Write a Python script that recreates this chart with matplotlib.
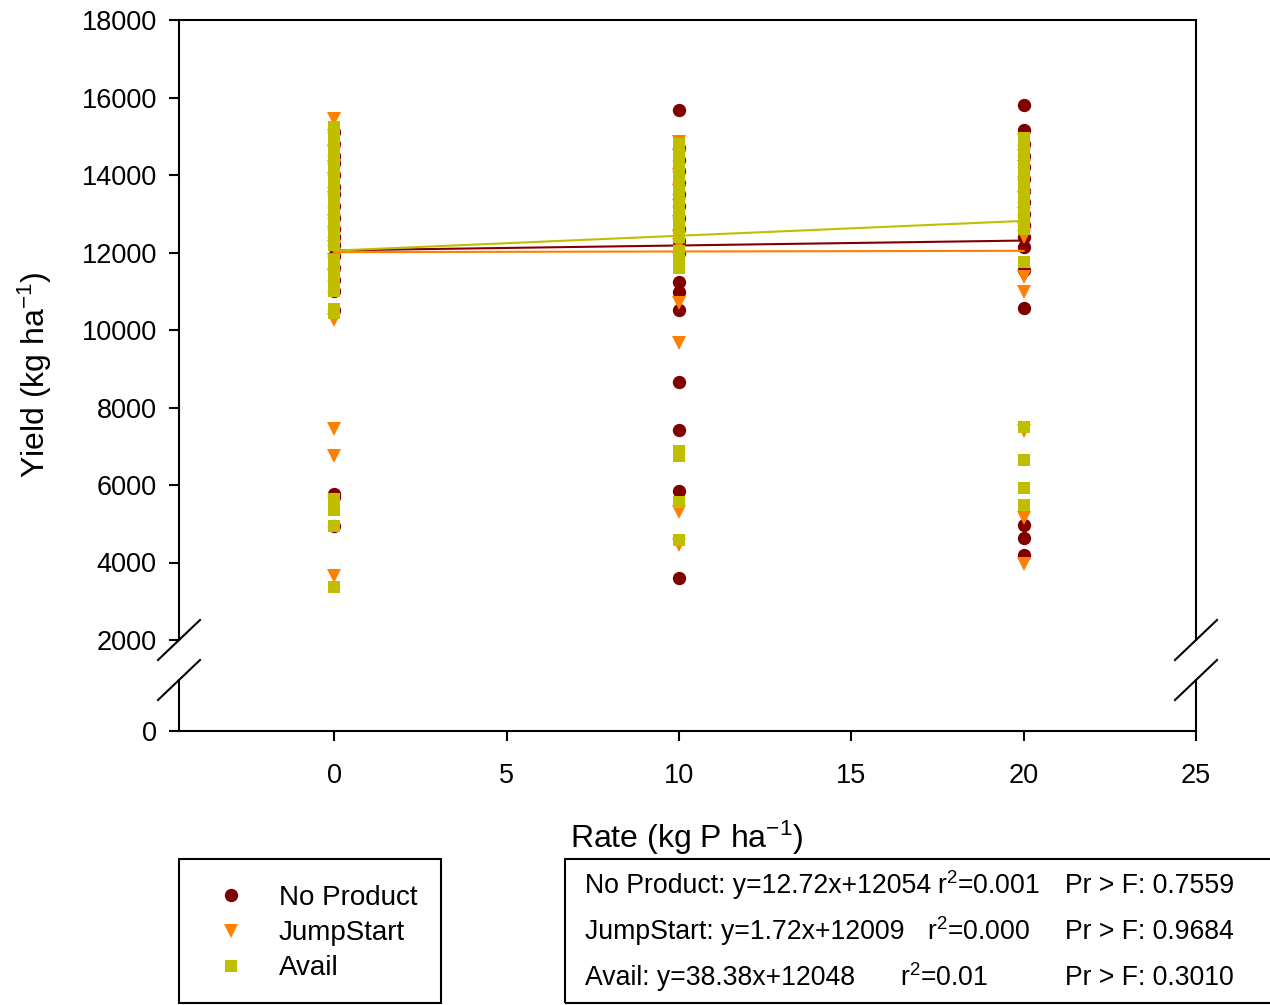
import matplotlib

matplotlib.use("Agg")
import matplotlib.pyplot as plt
from matplotlib.lines import Line2D
from matplotlib.patches import Rectangle
import numpy as np

plt.rcParams["font.family"] = ["Liberation Sans", "DejaVu Sans"]
plt.rcParams["mathtext.fontset"] = "custom"
plt.rcParams["mathtext.rm"] = "Liberation Sans"
plt.rcParams["mathtext.default"] = "regular"

# yields (kg/ha), per rate
rates = [0, 10, 20]

no_product = {
    0: [15100, 14800, 14500, 14300, 14000, 13700, 13500, 13200, 12900, 12600,
        12400, 12200, 11900, 11600, 11300, 11000, 10520, 5780, 5700, 4950],
    10: [15680, 14700, 14400, 14100, 13800, 13500, 13200, 12900, 12600, 12300,
         12000, 11250, 10980, 10520, 8660, 7420, 5850, 3600],
    20: [15800, 15150, 14800, 14500, 14200, 13900, 13600, 13300, 13000, 12700,
         12400, 12140, 11550, 10570, 4970, 4630, 4200],
}
jumpstart = {
    0: [15450, 15000, 14600, 14200, 13900, 13400, 12820, 12500, 12150,
        11800, 11400, 10250, 7450, 6750, 3650],
    10: [14850, 14500, 14000, 13600, 13200, 12800, 12400, 12190, 10700, 9660,
         5300, 4450],
    20: [14900, 14500, 14200, 13800, 13400, 13000, 12600, 12400, 11370, 10980,
         7400, 5150, 3950],
}
avail = {
    0: [15250, 15050, 14750, 14450, 14150, 13850, 13550, 13250, 13000,
        12700, 12400, 12200, 11800, 11500, 11200, 11000, 10550, 10450,
        5650, 5450, 5350, 4950, 3370],
    10: [14800, 14500, 14200, 13900, 13600, 13300, 13000, 12700, 12400,
         12050, 11750, 11600, 6870, 6750, 5560, 4580],
    20: [14950, 14650, 14350, 14050, 13750, 13450, 13150, 12850, 12600,
         11750, 7500, 6640, 5920, 5480],
}

series_names = ["No Product", "JumpStart", "Avail"]
series_data = [no_product, jumpstart, avail]
slopes = [12.72, 1.72, 38.38]
intercepts = [12054, 12009, 12048]
r2_text = ["0.001", "0.000", "0.01"]
pr_f = ["0.7559", "0.9684", "0.3010"]

colors = ["#800000", "#FF8000", "#BFBF00"]
markers = ["o", "v", "s"]
msizes = [9.6, 10.5, 9.0]

W, H = 1270, 1005
fig = plt.figure(figsize=(12.7, 10.05), dpi=100)


def fx(px):
    return px / W


def fy(py):
    return 1 - py / H


left, right = 179, 1196
ax = fig.add_axes([fx(left), fy(640), fx(right - left), (640 - 20) / H])
axb = fig.add_axes([fx(left), fy(731), fx(right - left), (731 - 680) / H])

for name, data, c, m, ms, b1, b0 in zip(series_names, series_data, colors,
                                         markers, msizes, slopes, intercepts):
    for r in rates:
        ax.plot([r] * len(data[r]), data[r], linestyle="none", marker=m,
                markersize=ms, color=c, markeredgewidth=0)
    xs = np.array([rates[0], rates[-1]])
    ax.plot(xs, b1 * xs + b0, color=c, lw=1.5)

ax.set_xlim(-4.5, 25)
ax.set_ylim(2000, 18000)
ax.set_yticks(np.arange(2000, 18001, 2000))
ax.set_xticks([])
ax.spines["bottom"].set_visible(False)

axb.set_xlim(-4.5, 25)
axb.set_ylim(0, 51 / 0.03875)
axb.set_yticks([0])
axb.set_xticks(np.arange(0, 26, 5))
axb.spines["top"].set_visible(False)
axb.patch.set_alpha(0)

for a in (ax, axb):
    for s in a.spines.values():
        s.set_linewidth(1.5)
    a.tick_params(direction="out", length=7, width=1.5, labelsize=19.5, pad=9)
axb.tick_params(axis="x", pad=16)

# axis break marks
dx, dy = 21 / W, 20 / H
for xp in (left, right):
    for yp in (640, 680):
        fig.add_artist(Line2D([fx(xp) - dx, fx(xp) + dx], [fy(yp) - dy, fy(yp) + dy],
                              color="black", lw=1.5))

fig.text(fx(35), fy(375), "Yield (kg ha$^{-1}$)", rotation=90, fontsize=23,
         ha="center", va="center")
fig.text(fx(687), fy(838), "Rate (kg P ha$^{-1}$)", fontsize=23,
         ha="center", va="center")

# legend
handles = [Line2D([], [], linestyle="none", marker=m, markersize=ms, color=c,
                  markeredgewidth=0) for m, ms, c in zip(markers, msizes, colors)]
fig.legend(handles, series_names, loc="upper left",
           bbox_to_anchor=(fx(192), fy(874)), frameon=False, fontsize=20,
           handletextpad=0.72, labelspacing=0.33, borderaxespad=0)
fig.add_artist(Rectangle((fx(179), fy(1003)), fx(441 - 179), (1003 - 859) / H,
                         fill=False, edgecolor="black", lw=1.5))

# regression stats box
fig.add_artist(Rectangle((fx(565), fy(1003)), fx(1290 - 565), (1003 - 859) / H,
                         fill=False, edgecolor="black", lw=1.5, clip_on=False))
row_y = [886, 932, 978]
r2_x = [937, 927, 900]
for i, name in enumerate(series_names):
    eq = f"{name}: y={slopes[i]:.2f}x+{intercepts[i]}"
    fig.text(fx(585), fy(row_y[i]), eq, fontsize=19.2, va="center", ha="left")
    fig.text(fx(r2_x[i]), fy(row_y[i]), "r$^2$=" + r2_text[i], fontsize=19.2,
             va="center", ha="left")
    fig.text(fx(1065), fy(row_y[i]), f"Pr > F: {pr_f[i]}", fontsize=19.2,
             va="center", ha="left")

fig.savefig("out.png", dpi=100)
